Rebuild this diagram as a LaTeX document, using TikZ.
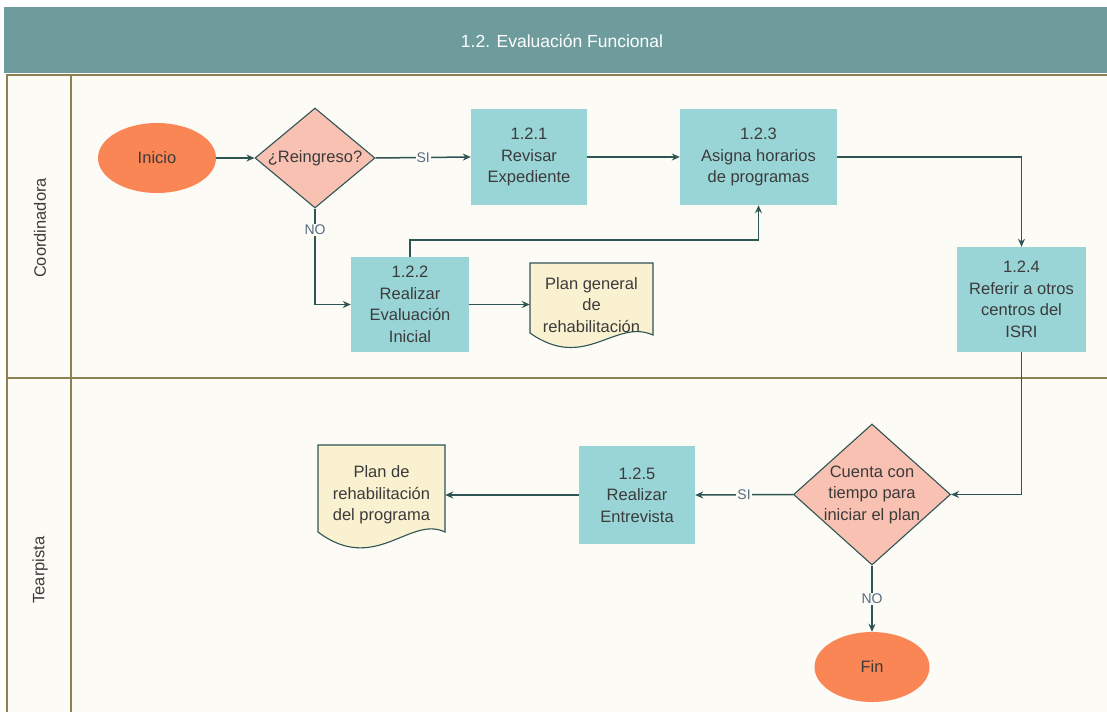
\documentclass[tikz,border=0pt]{standalone}
\usepackage{fontspec}
\setmainfont{Liberation Sans}
\usetikzlibrary{shapes.geometric,arrows.meta}
\definecolor{hdrc}{HTML}{6E9B9B}
\definecolor{lanec}{HTML}{FDFBF6}
\definecolor{lanebd}{HTML}{8C8150}
\definecolor{procc}{HTML}{99D5D6}
\definecolor{termc}{HTML}{FA8655}
\definecolor{decc}{HTML}{F9C1B2}
\definecolor{docc}{HTML}{FAF1D1}
\definecolor{linec}{HTML}{2E5454}
\definecolor{txtc}{HTML}{3B3B3B}
\definecolor{lblc}{HTML}{556B80}
\begin{document}
\begin{tikzpicture}[x=1pt,y=-1pt,
  txt/.style={font=\fontsize{16.5}{21.5}\selectfont, text=txtc, align=center},
  proc/.style={txt, rectangle, fill=procc, inner sep=2pt},
  term/.style={txt, ellipse, fill=termc, inner sep=0pt},
  dec/.style={diamond, fill=decc, draw=linec, line width=1.1pt, inner sep=0pt},
  docshape/.style={fill=docc, draw=linec, line width=1.1pt},
  lbl/.style={font=\fontsize{14}{16}\selectfont, text=lblc, fill=lanec, inner sep=1pt},
  arr/.style={draw=linec, line width=1.5pt, -{Stealth[length=8pt,width=7pt]}},
  lane/.style={draw=lanebd, line width=1.4pt}]
\useasboundingbox (0,0) rectangle (1107,712);
\fill[white] (0,0) rectangle (1107,712);
% header
\fill[hdrc] (4,7) rectangle (1107,73);
\node[font=\fontsize{17.5}{20}\selectfont, text=white] (title) at (562,41) {1.2. Evaluación Funcional};
% lanes
\fill[lanec] (7,75) rectangle (1107,712);
\draw[lane] (1107,75) -- (7,75) -- (7,712);
\draw[lane] (71,75) -- (71,712);
\draw[lane] (7,378) -- (1107,378);
\node[txt, rotate=90] (laneA) at (40,228) {Coordinadora};
\node[txt, rotate=90] (laneB) at (40,570) {Tearpista};
% documents
\path[docshape] (530,263) -- (653,263) -- (653,335) .. controls (615,318) and (585,372) .. (530,333) -- cycle;
\path[docshape] (318,445) -- (445,445) -- (445,532) .. controls (410,515) and (375,575) .. (318,532) -- cycle;
\node[txt, minimum width=123, minimum height=60] (doc1) at (591.5,305) {Plan general\\de\\rehabilitación};
\node[txt, minimum width=127, minimum height=60] (doc2) at (381.5,495) {Plan de\\rehabilitación\\del programa};
% nodes
\node[term, minimum width=118, minimum height=70] (inicio) at (157,158) {Inicio};
\node[dec, minimum width=120, minimum height=100] (d1) at (315,158) {};
\node[txt] (d1t) at (d1) {¿Reingreso?};
\node[proc, minimum width=116, minimum height=96] (p121) at (529,157) {1.2.1\\Revisar\\Expediente};
\node[proc, minimum width=157, minimum height=96] (p123) at (758.5,157) {1.2.3\\Asigna horarios\\de programas};
\node[proc, minimum width=129, minimum height=105] (p124) at (1021.5,299.5) {1.2.4\\Referir a otros\\centros del\\ISRI};
\node[proc, minimum width=118, minimum height=95] (p122) at (410,304.5) {1.2.2\\Realizar\\Evaluación\\Inicial};
\node[dec, minimum width=157, minimum height=141] (d2) at (872,494.5) {};
\node[txt] (d2t) at (d2) {Cuenta con\\tiempo para\\iniciar el plan};
\node[proc, minimum width=116, minimum height=98] (p125) at (637,495) {1.2.5\\Realizar\\Entrevista};
\node[term, minimum width=115, minimum height=70] (fin) at (872,667) {Fin};
\coordinate (k1) at (0,240);
% connectors
\draw[arr] (inicio) -- (d1);
\draw[arr] (d1.east) -- node[lbl] {SI} (p121.west);
\draw[arr] (p121.east) -- (p123.west);
\draw[arr] (p123.east) -| (p124.north);
\draw[arr] (d1.south) |- node[lbl, pos=0.11] {NO} (p122.west);
\draw[arr] (p122.north) -- (p122.north |- k1) -| (p123.south);
\draw[arr] (p122.east) -- (p122.east -| doc1.west);
\draw[arr] (p124.south) |- (d2.east);
\draw[arr] (d2.west) -- node[lbl] {SI} (p125.east);
\draw[arr] (p125.west) -- (p125.west -| doc2.east);
\draw[arr] (d2.south) -- node[lbl] {NO} (fin.north);
\end{tikzpicture}
\end{document}
